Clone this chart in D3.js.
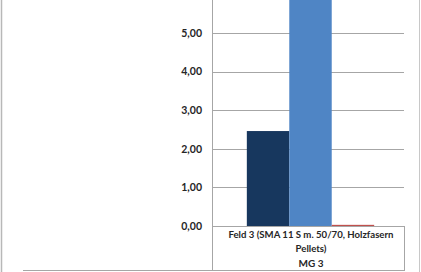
<!DOCTYPE html>
<html><head><meta charset="utf-8">
<script src="https://cdn.jsdelivr.net/npm/d3@7"></script>
<style>html,body{margin:0;padding:0;background:#fff;}svg{display:block;}</style>
</head><body>
<svg id="c" width="421" height="272"></svg>
<script>
const categories = ["Feld 3 (SMA 11 S m. 50/70, Holzfasern|Pellets)"];
const groupLabels = ["MG 3"];
const seriesNames = ["Reihe 1", "Reihe 2", "Reihe 3"];
const seriesValues = [2.46, 6.6, 0.03];
const seriesColors = ["#17375E", "#4F85C5", "#C0504D"];
const yTicks = [0, 1, 2, 3, 4, 5, 6];

const svg = d3.select("#c");
const W = 421, H = 272;
const plot = {left: 212, right: 404, top: -44, bottom: 226};
const font = "Lato, 'Open Sans', sans-serif";

const y = d3.scaleLinear().domain([0, 7]).range([plot.bottom, plot.bottom - 7 * 38.6]);
const xCat = d3.scaleBand().domain(categories).range([plot.left + 3, plot.right + 2]).paddingInner(0).paddingOuter(0.25);
const xSer = d3.scaleBand().domain(seriesNames).range([0, xCat.bandwidth()]).padding(0);

// outer borders
svg.append("line").attr("x1", 1.5).attr("x2", 1.5).attr("y1", 0).attr("y2", H).attr("stroke", "#b8b8b8").attr("stroke-width", 1.5);
svg.append("line").attr("x1", 419.5).attr("x2", 419.5).attr("y1", 0).attr("y2", H).attr("stroke", "#c8c8c8").attr("stroke-width", 1);

// gridlines
svg.append("g").selectAll("line").data(yTicks.filter(d => d > 0)).join("line")
  .attr("x1", plot.left).attr("x2", plot.right)
  .attr("y1", d => Math.round(y(d)) + 0.5).attr("y2", d => Math.round(y(d)) + 0.5)
  .attr("stroke", "#a6a6a6").attr("stroke-width", 1);

// y axis
const yAxis = d3.axisLeft(y).tickValues(yTicks).tickSize(0).tickPadding(10)
  .tickFormat(d => d3.format(".2f")(d).replace(".", ","));
const gy = svg.append("g").attr("transform", `translate(${plot.left},0)`).call(yAxis);
gy.select(".domain").remove();
gy.selectAll("text").attr("font-family", font).attr("font-size", 10.5).attr("font-weight", "bold").attr("fill", "#262626");

// bars
const g = svg.append("g");
categories.forEach(cat => {
  g.selectAll("rect.s").data(seriesValues).join("rect")
    .attr("x", (d, i) => xCat(cat) + xSer(seriesNames[i]))
    .attr("width", xSer.bandwidth())
    .attr("y", d => y(d))
    .attr("height", d => y(0) - y(d))
    .attr("fill", (d, i) => seriesColors[i]);
});

// axis lines
svg.append("line").attr("x1", plot.left + 0.5).attr("x2", plot.left + 0.5).attr("y1", 0).attr("y2", 271).attr("stroke", "#a6a6a6");
svg.append("line").attr("x1", plot.left).attr("x2", plot.right).attr("y1", 226.5).attr("y2", 226.5).attr("stroke", "#a6a6a6");
svg.append("line").attr("x1", plot.right + 0.5).attr("x2", plot.right + 0.5).attr("y1", 226).attr("y2", 271).attr("stroke", "#a6a6a6");
svg.append("line").attr("x1", 23).attr("x2", plot.right + 1).attr("y1", 270.5).attr("y2", 270.5).attr("stroke", "#a6a6a6");

// category labels
const lines = categories[0].split("|");
lines.forEach((t, i) => {
  svg.append("text").attr("x", (plot.left + plot.right) / 2 + 3).attr("y", 235 + i * 14).attr("dy", "0.35em")
    .attr("text-anchor", "middle").attr("font-family", font).attr("font-size", 9.6).attr("font-weight", "bold")
    .attr("fill", "#262626").text(t);
});
svg.append("text").attr("x", (plot.left + plot.right) / 2 + 3).attr("y", 263).attr("dy", "0.35em")
  .attr("text-anchor", "middle").attr("font-family", font).attr("font-size", 10).attr("font-weight", "bold")
  .attr("fill", "#262626").text(groupLabels[0]);
</script>
</body></html>
